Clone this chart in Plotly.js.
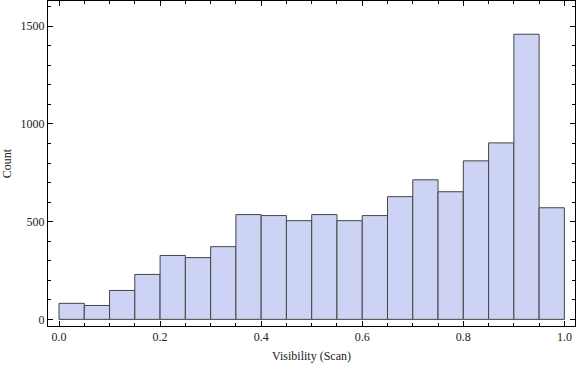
<!DOCTYPE html>
<html>
<head>
<meta charset="utf-8">
<script src="https://cdn.plot.ly/plotly-3.0.1.min.js"></script>
<style>html,body{margin:0;padding:0;background:#fff;}#chart{width:576px;height:366px;}</style>
</head>
<body>
<div id="chart"></div>
<script>
var binStarts = [0.00,0.05,0.10,0.15,0.20,0.25,0.30,0.35,0.40,0.45,0.50,0.55,0.60,0.65,0.70,0.75,0.80,0.85,0.90,0.95];
var binWidth = 0.05;
var counts = [82,71,148,230,327,316,372,536,531,505,536,505,531,628,714,653,811,903,1459,571];
var xTickVals = [0.0,0.2,0.4,0.6,0.8,1.0];
var xTickText = ["0.0","0.2","0.4","0.6","0.8","1.0"];
var yTickVals = [0,500,1000,1500];
var yTickText = ["0","500","1000","1500"];

var centers = binStarts.map(function(s){return s + binWidth/2;});
var trace = {
  type: 'bar',
  x: centers,
  y: counts,
  width: binStarts.map(function(){return binWidth;}),
  marker: {color: '#ccd3f5', line: {color: '#444444', width: 1}},
  hoverinfo: 'x+y'
};
var font = {family: '"Liberation Serif", "DejaVu Serif", serif', size: 12, color: '#222'};
var layout = {
  width: 576, height: 366,
  margin: {l: 48, r: 1, t: 1, b: 40},
  paper_bgcolor: '#fff', plot_bgcolor: '#fff',
  showlegend: false,
  bargap: 0,
  font: font,
  xaxis: {
    range: [-0.0218, 1.021],
    tickvals: xTickVals, ticktext: xTickText,
    ticks: 'inside', ticklen: 5, tickwidth: 1, tickcolor: '#000',
    minor: {dtick: 0.05, tick0: 0, ticks: 'inside', ticklen: 3, tickwidth: 1, tickcolor: '#000', showgrid: false},
    showline: true, linecolor: '#000', linewidth: 1, mirror: 'ticks',
    showgrid: false, zeroline: false,
    tickfont: font,
    title: {text: 'Visibility (Scan)', font: font, standoff: 8}
  },
  yaxis: {
    range: [-34, 1629],
    tickvals: yTickVals, ticktext: yTickText,
    ticks: 'inside', ticklen: 5, tickwidth: 1, tickcolor: '#000',
    minor: {dtick: 100, tick0: 0, ticks: 'inside', ticklen: 3, tickwidth: 1, tickcolor: '#000', showgrid: false},
    showline: true, linecolor: '#000', linewidth: 1, mirror: 'ticks',
    showgrid: false, zeroline: false,
    tickfont: font,
    title: {text: 'Count', font: font, standoff: 6}
  }
};
Plotly.newPlot('chart', [trace], layout, {staticPlot: true, displayModeBar: false});
</script>
</body>
</html>
